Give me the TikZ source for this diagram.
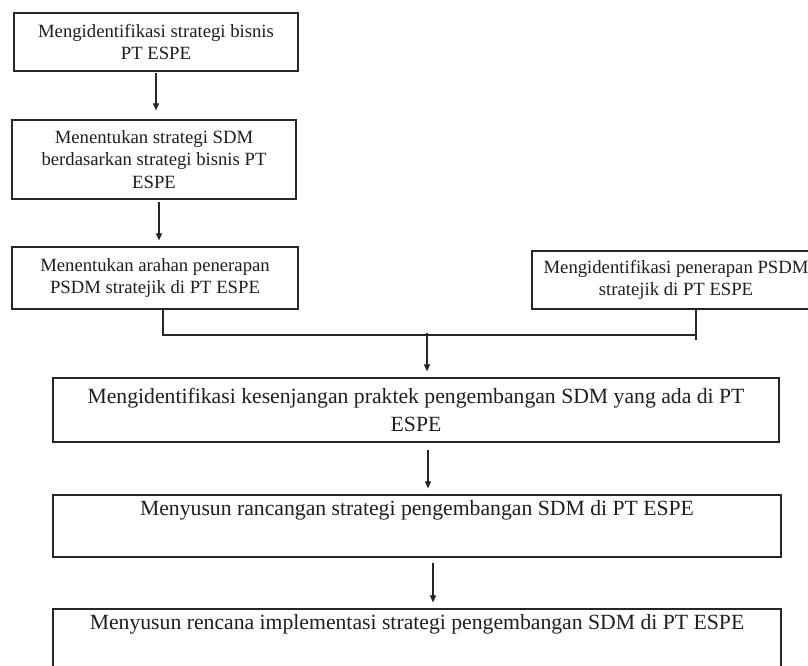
\documentclass[tikz,border=0pt]{standalone}
\usepackage{fontspec}
\setmainfont{Liberation Serif}
\usetikzlibrary{arrows.meta,calc}
\begin{document}
\begin{tikzpicture}[x=1pt,y=-1pt,
  box/.style={draw=black!85,line width=1.2pt,rectangle,align=center,inner sep=2pt,text=black!88},
  smallbox/.style={box,font=\fontsize{18.7}{22.5}\selectfont},
  bigbox/.style={box,font=\fontsize{21.7}{28}\selectfont},
  conn/.style={draw=black!85,line width=1.1pt},
  arr/.style={conn,-{Triangle[length=7pt,width=6pt]}}]
\useasboundingbox (0,0) rectangle (808,666);
\clip (0,0) rectangle (808,666);
\fill[white] (0,0) rectangle (808,666);
% boxes
\node[smallbox,minimum width=284,minimum height=58] (B1) at (156,42)
  {Mengidentifikasi strategi bisnis\\PT ESPE};
\node[smallbox,minimum width=284,minimum height=79] (B2) at (154,159.5)
  {Menentukan strategi SDM\\berdasarkan strategi bisnis PT\\ESPE};
\node[smallbox,minimum width=286,minimum height=62] (B3) at (155,278)
  {Menentukan arahan penerapan\\PSDM stratejik di PT ESPE};
\node[smallbox,minimum width=288,minimum height=58] (B4) at (676,280)
  {Mengidentifikasi penerapan PSDM\\stratejik di PT ESPE};
\node[bigbox,minimum width=726,minimum height=64] (B5) at (416,410)
  {Mengidentifikasi kesenjangan praktek pengembangan SDM yang ada di PT\\ESPE};
\node[bigbox,minimum width=728,minimum height=62] (B6) at (417,526)
  {Menyusun rancangan strategi pengembangan SDM di PT ESPE\\\strut};
\node[bigbox,minimum width=728,minimum height=62] (B7) at (417,640)
  {Menyusun rencana implementasi strategi pengembangan SDM di PT ESPE\\\strut};
% connector coordinates
\coordinate (a1) at (156,73);
\coordinate (a2) at (159,202);
\coordinate (l3) at (163,309);
\coordinate (j) at (163,335);
\coordinate (r4) at (696,309);
\coordinate (r4e) at (696,340);
\coordinate (a3) at (427,333);
\coordinate (a4) at (428,450);
\coordinate (a5) at (433,563);
% connectors
\draw[arr,shorten >=9pt] (a1) -- (a1 |- B2.north);
\draw[arr,shorten >=6pt] (a2) -- (a2 |- B3.north);
\draw[conn] (l3) -- (j) -- (j -| r4);
\draw[conn] (r4) -- (r4e);
\draw[arr,shorten >=6pt] (a3) -- (a3 |- B5.north);
\draw[arr,shorten >=6pt] (a4) -- (a4 |- B6.north);
\draw[arr,shorten >=6pt] (a5) -- (a5 |- B7.north);
\end{tikzpicture}
\end{document}
